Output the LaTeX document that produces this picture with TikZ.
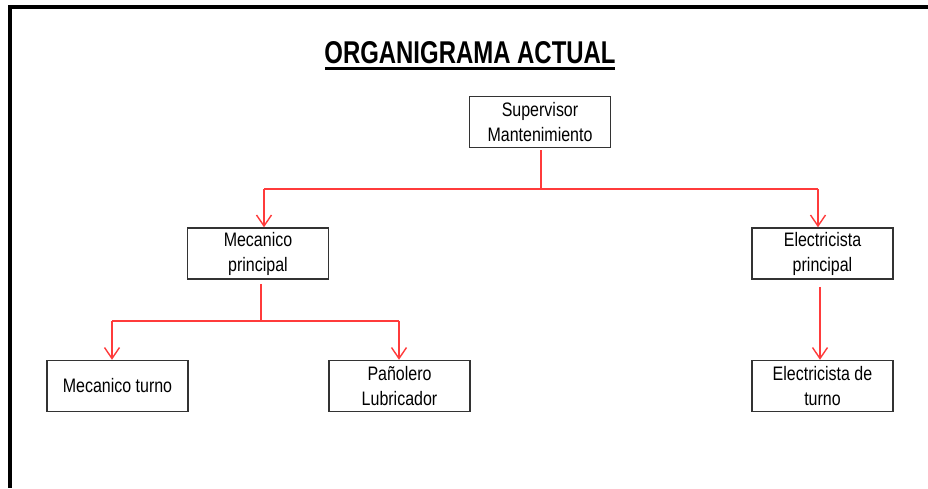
\documentclass[tikz,border=0pt]{standalone}
\usepackage{fontspec}
\setmainfont[FakeStretch=0.82]{Liberation Sans}
\newfontfamily\titlefont[FakeStretch=0.76]{Liberation Sans}
\usetikzlibrary{arrows.meta}
\definecolor{linkred}{HTML}{FF3B3B}
\definecolor{boxgray}{HTML}{333333}
\tikzset{
  orgbox/.style={draw=boxgray, line width=1.5pt, minimum width=141pt, minimum height=51pt,
    align=center, inner sep=0pt, font=\fontsize{19.5}{25}\selectfont},
  link/.style={draw=linkred, line width=1.4pt},
  linkarrow/.style={link, -{Straight Barb[length=11pt,width=15pt,line width=1.4pt]}},
  frame/.style={line width=3.5pt, black}
}
\begin{document}
\begin{tikzpicture}[x=1pt, y=-1pt]
  \useasboundingbox (0,0) rectangle (928,488);
  % open page frame (top and left edges)
  \draw[frame] (928,7) -- (10.2,7) -- (10.2,488);
  % title
  \node[font=\titlefont\bfseries\fontsize{31.5}{33}\selectfont, inner sep=0pt] (title) at (470,52.5) {ORGANIGRAMA ACTUAL};
  \draw[line width=2.2pt] (325,68.5) -- (615,68.5);
  % boxes
  \node[orgbox] (sup) at (540,122) {Supervisor\\Mantenimiento};
  \node[orgbox] (mp) at (258,253.5) {Mecanico\\principal};
  \node[orgbox] (ep) at (822.5,253.5) {Electricista\\principal};
  \node[orgbox] (mt) at (117.5,386) {Mecanico turno};
  \node[orgbox] (pl) at (399.5,386) {Pañolero\\Lubricador};
  \node[orgbox] (et) at (822.5,386) {Electricista de\\turno};
  % junction points
  \coordinate (j1) at (541,189);
  \coordinate (j1l) at (264,189);
  \coordinate (j1r) at (818,189);
  \coordinate (j2) at (261,321);
  \coordinate (j2l) at (112,321);
  \coordinate (j2r) at (399,321);
  % connectors
  \draw[link] (sup.south -| j1) ++(0,2) -- (j1);
  \draw[link] (j1l) -- (j1r);
  \draw[linkarrow] (j1l) -- (j1l |- mp.north);
  \draw[linkarrow] (j1r) -- (j1r |- ep.north);
  \draw[link] (mp.south -| j2) ++(0,4) -- (j2);
  \draw[link] (j2l) -- (j2r);
  \draw[linkarrow] (j2l) -- (j2l |- mt.north);
  \draw[linkarrow] (j2r) -- (j2r |- pl.north);
  \draw[linkarrow] ([xshift=-2.5pt,yshift=-7pt]ep.south) -- ([xshift=-2.5pt]et.north);
\end{tikzpicture}
\end{document}
